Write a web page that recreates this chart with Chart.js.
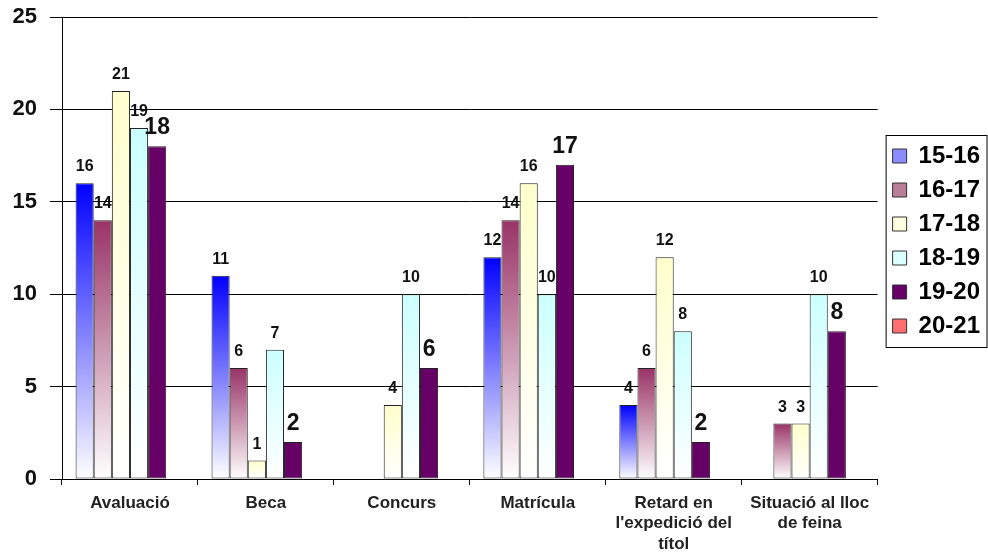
<!DOCTYPE html>
<html>
<head>
<meta charset="utf-8">
<script src="https://cdn.jsdelivr.net/npm/chart.js@4.4.0/dist/chart.umd.min.js"></script>
<style>
  body { margin: 0; background: #fff; }
  #caixa { width: 988px; height: 553px; }
</style>
</head>
<body>
<div id="caixa"><canvas id="grafic"></canvas></div>
<script>
// dades llegides del gràfic original
var categories = ['Avaluació', 'Beca', 'Concurs', 'Matrícula', ['Retard en', "l'expedició del", 'títol'], ['Situació al lloc', 'de feina']]
var cursos = ['15-16', '16-17', '17-18', '18-19', '19-20', '20-21']
var v1516 = [16, 11, null, 12, 4, null]
var v1617 = [14, 6, null, 14, 6, 3]
var v1718 = [21, 1, 4, 16, 12, 3]
var v1819 = [19, 7, 10, 10, 8, 10]
var v1920 = [18, 2, 6, 17, 2, 8]
var v2021 = [null, null, null, null, null, null]
var marques = [0, 5, 10, 15, 20, 25]

var colors = ['#0000ff', '#993366', '#ffffcc', '#ccffff', '#660066', '#ff6666']
var colorsLlegenda = ['#8c8cff', '#b97f99', '#ffffe0', '#dcffff', '#660066', '#ff6f6f']
var degradats = [true, true, true, true, false, false]

var lletra = '"Liberation Sans", Arial, sans-serif'

function degradat(color) {
    return function (c) {
        var chart = c.chart
        if (c.type !== 'data' || !chart.chartArea || c.raw == null) return color
        var y = chart.scales.y
        var dalt = y.getPixelForValue(c.raw)
        var baix = y.getPixelForValue(0)
        var g = chart.ctx.createLinearGradient(0, dalt, 0, baix)
        g.addColorStop(0, color)
        g.addColorStop(1, '#ffffff')
        return g
    }
}

var series = [v1516, v1617, v1718, v1819, v1920, v2021]
var datasets = series.map(function (valors, i) {
    return {
        label: cursos[i],
        data: valors,
        backgroundColor: degradats[i] ? degradat(colors[i]) : colors[i],
        borderColor: '#222',
        borderWidth: 1,
        borderSkipped: false,
        categoryPercentage: 0.8,
        barPercentage: 1.0
    }
})

// valors damunt de les barres
var rotulos = {
    id: 'rotulos',
    afterDatasetsDraw: function (chart) {
        var ctx = chart.ctx
        chart.data.datasets.forEach(function (ds, i) {
            var meta = chart.getDatasetMeta(i)
            meta.data.forEach(function (barra, j) {
                var v = ds.data[j]
                if (v == null) return
                ctx.save()
                ctx.font = (i === 4 ? 'bold 23px ' : 'bold 16px ') + lletra
                ctx.fillStyle = '#111'
                ctx.textAlign = 'center'
                ctx.textBaseline = 'alphabetic'
                ctx.fillText(String(v), barra.x, barra.y - 12)
                ctx.restore()
            })
        })
    }
}

// marc de la llegenda
var marc = {
    id: 'marc',
    afterLayout: function (chart) {
        var l = chart.legend
        l.left += 5
        l.right += 5
        l.top -= 44
        l.bottom -= 44
    },
    afterDraw: function (chart) {
        var l = chart.legend
        var caixes = l.legendHitBoxes
        if (!caixes || !caixes.length) return
        var ctx = chart.ctx
        var x0 = caixes[0].left - 7
        var y0 = caixes[0].top - 9
        var ultima = caixes[caixes.length - 1]
        var y1 = ultima.top + ultima.height + 9
        ctx.save()
        ctx.strokeStyle = '#000'
        ctx.lineWidth = 1
        ctx.strokeRect(x0 + 0.5, y0 + 0.5, chart.width - x0 - 1.5, y1 - y0)
        ctx.restore()
    }
}

var ctx = document.getElementById('grafic').getContext('2d')
var grafic = new Chart(ctx, {
    type: 'bar',
    data: {
        labels: categories,
        datasets: datasets
    },
    options: {
        responsive: true,
        maintainAspectRatio: false,
        animation: false,
        layout: {
            padding: { left: 0, right: 3, top: 17, bottom: 0 }
        },
        scales: {
            x: {
                grid: { display: true, drawOnChartArea: false, color: '#000', tickLength: 6, offset: true },
                border: { color: '#000', width: 1 },
                ticks: {
                    color: '#222',
                    padding: 8,
                    maxRotation: 0,
                    autoSkip: false,
                    font: { family: lletra, size: 17, weight: 'bold', lineHeight: 1.2 }
                },
                afterFit: function (eix) { eix.height = 74 }
            },
            y: {
                min: 0,
                max: 25,
                afterBuildTicks: function (eix) {
                    eix.ticks = marques.map(function (m) { return { value: m } })
                },
                grid: { color: '#000', tickLength: 12 },
                border: { color: '#000', width: 1 },
                ticks: {
                    color: '#111',
                    padding: 13,
                    font: { family: lletra, size: 22, weight: 'bold' }
                },
                afterFit: function (eix) {
                    eix.width = 62
                    eix.paddingTop = 0
                    eix.paddingBottom = 0
                }
            }
        },
        plugins: {
            legend: {
                position: 'right',
                labels: {
                    boxWidth: 14,
                    boxHeight: 14,
                    padding: 10,
                    color: '#111',
                    font: { family: lletra, size: 24, weight: 'bold' },
                    generateLabels: function (chart) {
                        return cursos.map(function (c, i) {
                            return {
                                text: c,
                                fillStyle: colorsLlegenda[i],
                                strokeStyle: '#333',
                                lineWidth: 1,
                                hidden: false,
                                datasetIndex: i
                            }
                        })
                    }
                }
            },
            tooltip: { enabled: false }
        }
    },
    plugins: [rotulos, marc]
})
</script>
</body>
</html>
